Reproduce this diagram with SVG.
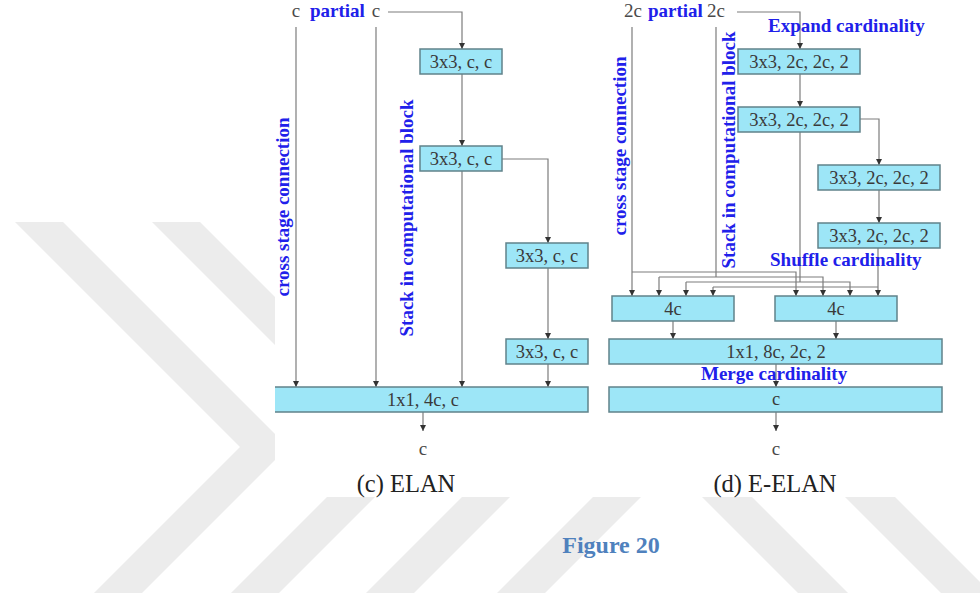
<svg xmlns="http://www.w3.org/2000/svg" width="980" height="593" viewBox="0 0 980 593">
<style>
.wm{fill:#ececec}
.box{fill:#9de6f7;stroke:#60828a;stroke-width:1.5}
.bt{font-family:"Liberation Serif","Times New Roman",serif;font-size:18.5px;fill:#3a3a3a;text-anchor:middle}
.blue{font-family:"Liberation Serif","Times New Roman",serif;font-size:19px;font-weight:bold;fill:#2020ea}
.lbl{font-family:"Liberation Serif","Times New Roman",serif;font-size:19px;fill:#4a4a4a;text-anchor:middle}
.cap{font-family:"Liberation Serif","Times New Roman",serif;font-size:24.5px;fill:#222;text-anchor:middle}
.ln{stroke:#7c7c7c;stroke-width:1.2;fill:none}
.ar{marker-end:url(#arr)}
</style>
<defs>
<marker id="arr" markerUnits="userSpaceOnUse" markerWidth="7" markerHeight="7" refX="6" refY="3" orient="auto">
<path d="M0,0 L6,3 L0,6 z" fill="#333"/>
</marker>
<clipPath id="clipL"><rect x="275" y="0" width="705" height="593"/></clipPath>
</defs>
<rect width="980" height="593" fill="#ffffff"/>
<g id="watermark">
<polygon class="wm" points="15,222 63,222 288,447 142,593 94,593 240,447"/>
<polygon class="wm" points="152,222 200,222 425,447 279,593 231,593 377,447"/>
<polygon class="wm" points="287,222 335,222 560,447 414,593 366,593 512,447"/>
<polygon class="wm" points="418,222 466,222 691,447 545,593 497,593 643,447"/>
<polygon class="wm" points="645,440 695,440 848,593 798,593"/>
<polygon class="wm" points="788,440 838,440 991,593 941,593"/>
<rect x="275" y="0" width="705" height="497" fill="#ffffff"/>
</g>
<g id="connectors">
<polyline class="ln ar" points="388,12 462,12 462,49"/>
<line class="ln ar" x1="296" y1="27" x2="296" y2="387"/>
<line class="ln ar" x1="376" y1="27" x2="376" y2="387"/>
<line class="ln ar" x1="462" y1="74" x2="462" y2="146"/>
<line class="ln ar" x1="462" y1="171" x2="462" y2="387"/>
<polyline class="ln ar" points="502,159 548,159 548,243"/>
<line class="ln ar" x1="548" y1="268" x2="548" y2="339"/>
<line class="ln ar" x1="548" y1="364" x2="548" y2="387"/>
<line class="ln ar" x1="423" y1="412" x2="423" y2="431"/>
<polyline class="ln ar" points="737,12 800,12 800,49"/>
<line class="ln ar" x1="800" y1="74" x2="800" y2="107"/>
<polyline class="ln ar" points="860,119 879,119 879,165"/>
<line class="ln ar" x1="879" y1="190" x2="879" y2="223"/>
<line class="ln ar" x1="632" y1="27" x2="632" y2="296"/>
<line class="ln" x1="716" y1="27" x2="716" y2="277"/>
<line class="ln" x1="800" y1="132" x2="800" y2="282"/>
<line class="ln ar" x1="878" y1="248" x2="878" y2="296"/>
<polyline class="ln ar" points="632,272 796,272 796,296"/>
<polyline class="ln ar" points="659,277 823,277 823,296"/>
<polyline class="ln ar" points="686,282 850,282 850,296"/>
<line class="ln" x1="713" y1="287" x2="878" y2="287"/>
<line class="ln ar" x1="659" y1="277" x2="659" y2="296"/>
<line class="ln ar" x1="686" y1="282" x2="686" y2="296"/>
<line class="ln ar" x1="713" y1="287" x2="713" y2="296"/>
<line class="ln ar" x1="673" y1="321" x2="673" y2="339"/>
<line class="ln ar" x1="836" y1="321" x2="836" y2="339"/>
<line class="ln ar" x1="776" y1="364" x2="776" y2="387"/>
<line class="ln ar" x1="776" y1="412" x2="776" y2="431"/>
</g>
<g id="elan-labels">
<text class="lbl" x="296" y="17">c</text>
<text class="blue" x="310" y="17">partial</text>
<text class="lbl" x="376" y="17">c</text>
<text class="blue" text-anchor="middle" transform="translate(289,207) rotate(-90)">cross stage connection</text>
<text class="blue" text-anchor="middle" transform="translate(413,218) rotate(-90)">Stack in computational block</text>
</g>
<g id="elan-b1"><rect class="box" x="420" y="49" width="82" height="25"/><text class="bt" x="461" y="68">3x3, c, c</text></g>
<g id="elan-b2"><rect class="box" x="420" y="146" width="82" height="25"/><text class="bt" x="461" y="165">3x3, c, c</text></g>
<g id="elan-b3"><rect class="box" x="506" y="243" width="82" height="25"/><text class="bt" x="547" y="262">3x3, c, c</text></g>
<g id="elan-b4"><rect class="box" x="506" y="339" width="82" height="25"/><text class="bt" x="547" y="358">3x3, c, c</text></g>
<g id="elan-merge" clip-path="url(#clipL)"><rect class="box" x="258" y="387" width="330" height="25"/><text class="bt" x="423" y="406">1x1, 4c, c</text></g>
<g id="elan-out"><text class="lbl" x="423" y="455">c</text></g>
<g id="elan-caption"><text class="cap" x="406" y="492">(c) ELAN</text></g>
<g id="eelan-labels">
<text class="lbl" x="633" y="17">2c</text>
<text class="blue" x="648" y="17">partial</text>
<text class="lbl" x="716" y="17">2c</text>
<text class="blue" x="768" y="32">Expand cardinality</text>
<text class="blue" text-anchor="middle" transform="translate(626,146) rotate(-90)">cross stage connection</text>
<text class="blue" text-anchor="middle" transform="translate(735,150) rotate(-90)">Stack in computational block</text>
</g>
<g id="eelan-a"><rect class="box" x="738" y="49" width="122" height="25"/><text class="bt" x="799" y="68">3x3, 2c, 2c, 2</text></g>
<g id="eelan-b"><rect class="box" x="738" y="107" width="122" height="25"/><text class="bt" x="799" y="126">3x3, 2c, 2c, 2</text></g>
<g id="eelan-c"><rect class="box" x="818" y="165" width="122" height="25"/><text class="bt" x="879" y="184">3x3, 2c, 2c, 2</text></g>
<g id="eelan-d"><rect class="box" x="818" y="223" width="122" height="25"/><text class="bt" x="879" y="242">3x3, 2c, 2c, 2</text></g>
<g id="eelan-shuffle"><text class="blue" x="770" y="266">Shuffle cardinality</text></g>
<g id="eelan-4c-left"><rect class="box" x="612" y="296" width="122" height="25"/><text class="bt" x="673" y="315">4c</text></g>
<g id="eelan-4c-right"><rect class="box" x="775" y="296" width="122" height="25"/><text class="bt" x="836" y="315">4c</text></g>
<g id="eelan-1x1"><rect class="box" x="609" y="339" width="333" height="25"/><text class="bt" x="776" y="358">1x1, 8c, 2c, 2</text></g>
<g id="eelan-merge-label"><text class="blue" x="701" y="380">Merge cardinality</text></g>
<g id="eelan-c-box"><rect class="box" x="609" y="387" width="333" height="25"/><text class="bt" x="776" y="405">c</text></g>
<g id="eelan-out"><text class="lbl" x="776" y="455">c</text></g>
<g id="eelan-caption"><text class="cap" x="775" y="492">(d) E-ELAN</text></g>
<g id="figure-caption"><text x="611" y="553" text-anchor="middle" font-family="'Liberation Serif','Times New Roman',serif" font-size="24px" font-weight="bold" fill="#4f81bd">Figure 20</text></g>
</svg>
